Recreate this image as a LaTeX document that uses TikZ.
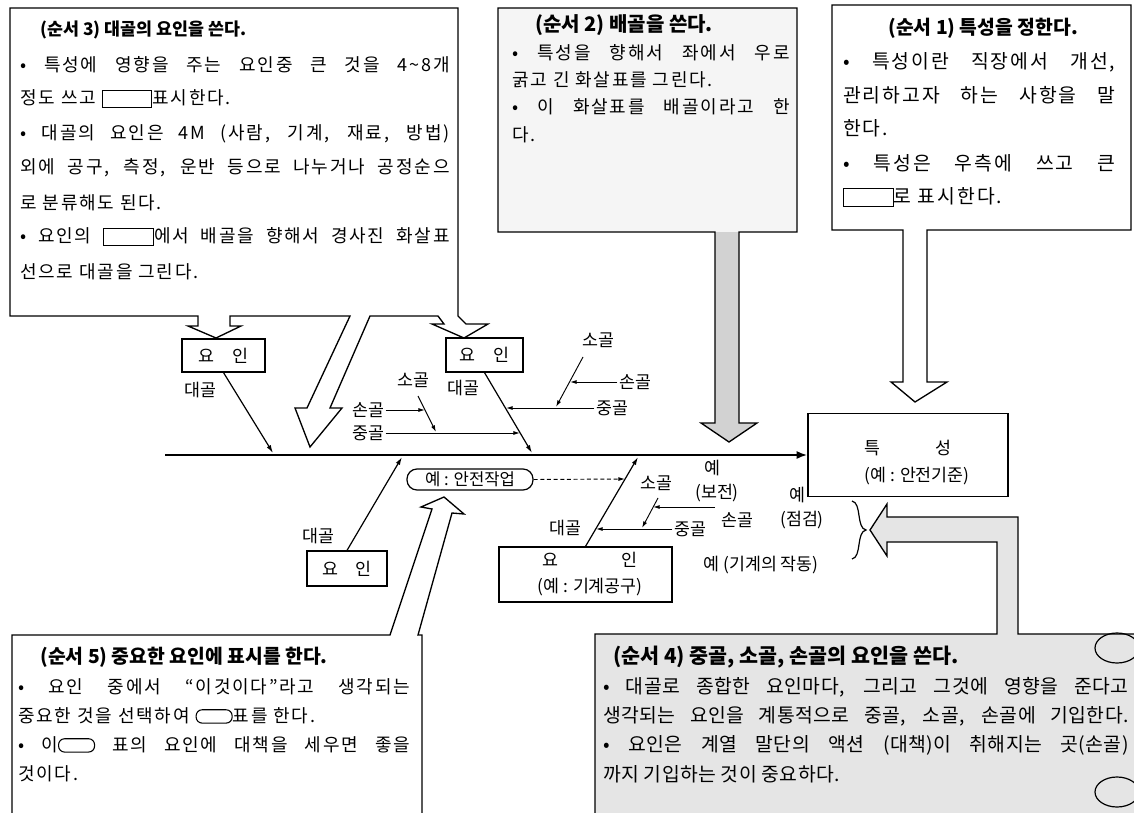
\documentclass[tikz,border=0pt]{standalone}
\usepackage{fontspec}
\usetikzlibrary{arrows.meta,calc}
\newfontfamily\kr[LetterSpace=10]{Noto Sans CJK KR}
\newfontfamily\krt[LetterSpace=2]{Noto Sans CJK KR}
\newfontfamily\krn{Noto Sans CJK KR}
\newcommand\sqb{\raisebox{-0.15em}{\setlength\fboxsep{0pt}\setlength\fboxrule{0.8pt}\framebox[38pt]{\rule{0pt}{12.5pt}}}}
\newcommand\stad{\tikz[baseline=-0.35em]\draw[line width=0.8pt,rounded corners=4.5pt](0pt,-5pt)rectangle(27pt,5pt);}
\newcommand\jline[2]{\makebox[#1][s]{#2}}
\begin{document}
\begin{tikzpicture}[x=0.75pt,y=-0.75pt,
  tl/.style={anchor=west,inner sep=0pt,font=\kr\fontsize{13.5}{16}\selectfont},
  tlb/.style={anchor=west,inner sep=0pt,font=\kr\fontsize{14.5}{17}\selectfont},
  tlf/.style={anchor=west,inner sep=0pt,font=\krt\fontsize{14.5}{17}\selectfont},
  hd/.style={anchor=west,inner sep=0pt,font=\krn\bfseries\fontsize{#1}{16}\selectfont},
  hd/.default=14.5,
  lb/.style={inner sep=1pt,font=\krn\fontsize{13}{15}\selectfont},
  yoin/.style={draw,line width=0.9pt,inner sep=0pt,fill=white,font=\krn\fontsize{13}{15}\selectfont},
  cbox/.style={draw,line width=1pt,line join=miter},
  bonea/.style={line width=0.9pt,-{Latex[length=6pt,width=3.5pt]}},
  subbone/.style={line width=0.7pt,-{Latex[length=5pt,width=3pt]}},
  spineline/.style={line width=2.2pt,-{Latex[length=8pt,width=6pt]}},
]
\useasboundingbox (0,0) rectangle (1134,813);
\clip (0,0) rectangle (1134,813);

% ---------- callout 3 ----------
\draw[cbox,fill=white] (10,8) -- (458,8) -- (458,316) -- (466,324) -- (488,324) -- (464,338)
  -- (432,324) -- (444,324) -- (438,316) -- (370,316) -- (330,408) -- (342,408) -- (310,447)
  -- (295,408) -- (307,408) -- (350,316) -- (230,316) -- (230,326) -- (241,326) -- (216,338)
  -- (188,326) -- (198,326) -- (198,316) -- (10,316) -- cycle;
\node[hd=13] (h3) at (40,30) {(순서 3) 대골의 요인을 쓴다.};
\node[tl] (c3a) at (20,64.5) {\jline{322pt}{•\ 특성에 영향을 주는 요인중 큰 것을 4\string~8개}};
\node[tl] (c3b) at (20,99) {정도 쓰고 \sqb{}표시한다.};
\node[tl] (c3c) at (20,133.5) {\jline{322pt}{•\ 대골의 요인은 4M (사람, 기계, 재료, 방법)}};
\node[tl] (c3d) at (20,168) {\jline{322pt}{외에 공구, 측정, 운반 등으로 나누거나 공정순으}};
\node[tl] (c3e) at (20,202.5) {로 분류해도 된다.};
\node[tl] (c3f) at (20,237) {\jline{322pt}{•\ 요인의 \sqb{}에서 배골을 향해서 경사진 화살표}};
\node[tl] (c3g) at (20,271.5) {선으로 대골을 그린다.};

% ---------- callout 2 ----------
\fill[gray!8] (498,8) -- (797,8) -- (797,232) -- (739,232) -- (739,423) -- (757,423) -- (729,442)
  -- (701,423) -- (715,423) -- (715,232) -- (498,232) -- cycle;
\fill[gray!35] (715,232) -- (715,423) -- (701,423) -- (729,442) -- (757,423) -- (739,423) -- (739,232) -- cycle;
\draw[cbox] (498,8) -- (797,8) -- (797,232) -- (739,232) -- (739,423) -- (757,423) -- (729,442)
  -- (701,423) -- (715,423) -- (715,232) -- (498,232) -- cycle;
\node[hd=15] (h2) at (535,25) {(순서 2) 배골을 쓴다.};
\node[tl] (c2a) at (512,53) {\jline{208pt}{•\ 특성을 향해서 좌에서 우로}};
\node[tl] (c2b) at (512,80) {굵고 긴 화살표를 그린다.};
\node[tl] (c2c) at (512,107) {\jline{208pt}{•\ 이 화살표를 배골이라고 한}};
\node[tl] (c2d) at (512,135) {다.};

% ---------- callout 1 ----------
\draw[cbox,fill=white] (832,5) -- (1131,5) -- (1131,230) -- (927,230) -- (927,382) -- (947,382)
  -- (915,402) -- (891,382) -- (903,382) -- (903,230) -- (832,230) -- cycle;
\node[hd] (h1) at (888,28) {(순서 1) 특성을 정한다.};
\node[tlb] (c1a) at (843,62) {\jline{204pt}{•\ 특성이란 직장에서 개선,}};
\node[tlb] (c1b) at (843,95) {\jline{204pt}{관리하고자 하는 사항을 말}};
\node[tlb] (c1c) at (843,128) {한다.};
\node[tlb] (c1d) at (843,163) {\jline{204pt}{•\ 특성은 우측에 쓰고 큰}};
\node[tlb] (c1e) at (843,197) {\sqb{}로 표시한다.};

% ---------- callout 5 ----------
\draw[cbox,fill=white] (12,816) -- (12,635) -- (390,635) -- (432,509) -- (421,507) -- (444,497)
  -- (464,514) -- (452,513) -- (418,635) -- (422,635) -- (422,816) -- cycle;
\node[hd] (h5) at (40,657) {(순서 5) 중요한 요인에 표시를 한다.};
\node[tl] (c5a) at (18,687) {\jline{294pt}{•\ 요인 중에서 “이것이다”라고 생각되는}};
\node[tl] (c5b) at (18,716) {중요한 것을 선택하여 \stad{}표를 한다.};
\node[tl] (c5c) at (18,745) {\jline{294pt}{•\ 이\stad{} 표의 요인에 대책을 세우면 좋을}};
\node[tl] (c5d) at (18,774) {것이다.};

% ---------- callout 4 ----------
\draw[cbox,fill=gray!20] (595,816) -- (595,634) -- (997,634) -- (997,542) -- (887,542) -- (887,556)
  -- (870,530) -- (887,504) -- (887,517) -- (1018,517) -- (1018,634) -- (1137,634) -- (1137,816) -- cycle;
\node[hd=15.5] (h4) at (613,657) {(순서 4) 중골, 소골, 손골의 요인을 쓴다.};
\node[tlf] (c4a) at (603,687) {\jline{394pt}{•\ 대골로 종합한 요인마다, 그리고 그것에 영향을 준다고}};
\node[tlf] (c4b) at (603,716) {\jline{394pt}{생각되는 요인을 계통적으로 중골, 소골, 손골에 기입한다.}};
\node[tlf] (c4c) at (603,745) {\jline{394pt}{•\ 요인은 계열 말단의 액션 (대책)이 취해지는 곳(손골)}};
\node[tlf] (c4d) at (603,774) {까지 기입하는 것이 중요하다.};
\draw[line width=0.9pt] (1117,648) ellipse [x radius=22, y radius=15];
\draw[line width=0.9pt] (1117,792) ellipse [x radius=22, y radius=15];

% ---------- fishbone ----------
\node[yoin,minimum width=150pt,minimum height=62.25pt] (T) at (908,455) {};
\node[lb] (T1) at (908,448) {특\hspace{3.2em}성};
\node[lb] (T2) at (917,476) {(예 : 안전기준)};
\coordinate (sS) at (165,455);
\draw[spineline] (sS) -- (T.west);

\node[yoin,minimum width=62.25pt,minimum height=24.75pt] (yA) at (223.5,355.5) {요\hspace{1em}인};
\node[yoin,minimum width=57.75pt,minimum height=25.5pt] (yB) at (484.5,355) {요\hspace{1em}인};
\node[yoin,minimum width=60pt,minimum height=26.25pt] (yC) at (347,568.5) {요\hspace{1em}인};
\node[yoin,minimum width=129.75pt,minimum height=41.25pt] (yD) at (585.5,574.5) {};
\node[lb] (yD1) at (590,560) {요\hspace{3.6em}인};
\node[lb] (yD2) at (590,587) {(예 : 기계공구)};

\coordinate (sA) at (273,453);
\coordinate (sB) at (532,453);
\coordinate (sC) at (402,457);
\coordinate (sD) at (638,457);
\draw[bonea] (yA.south) -- (sA);
\draw[bonea] (yB.south) -- (sB);
\draw[bonea] (yC.north) -- (sC);
\draw[bonea] (yD.north) -- (sD);

\node[lb] (dA) at (200,390) {대골};
\node[lb] (dB) at (463,388) {대골};
\node[lb] (dC) at (318,536) {대골};
\node[lb] (dD) at (565,528) {대골};

% left sub-bones (towards B)
\node[lb] (m1) at (368,433) {중골};
\node[lb] (n1) at (368,410) {손골};
\node[lb] (o1) at (413,380) {소골};
\coordinate (j1) at (520,433);
\coordinate (o1s) at (418,396);
\coordinate (o1e) at (436,432);
\coordinate (j2) at (425,410);
\draw[subbone] (m1.east) -- (j1);
\draw[subbone] (o1s) -- (o1e);
\draw[subbone] (n1.east) -- (j2);

% right sub-bones of B
\node[lb] (o2) at (598,340) {소골};
\node[lb] (n2) at (635,382) {손골};
\node[lb] (m2) at (612,408) {중골};
\coordinate (o2s) at (583,357);
\coordinate (o2e) at (556,407);
\coordinate (j3) at (570,382);
\coordinate (j4) at (506,408);
\draw[subbone] (o2s) -- (o2e);
\draw[subbone] (n2.west) -- (j3);
\draw[subbone] (m2.west) -- (j4);

% important factor
\node[draw,line width=0.9pt,rounded corners=7.5pt,minimum width=94.5pt,minimum height=15.75pt,inner sep=0pt,fill=white,font=\krn\fontsize{12.5}{14}\selectfont] (E) at (470,479.5) {예 : 안전작업};
\coordinate (jE) at (625,479);
\draw[subbone,densely dashed] (E.east) -- (jE);

% sub-bones of D
\node[lb] (o3) at (656,483) {소골};
\node[lb] (n3) at (737,520) {손골};
\node[lb] (m3) at (690,529) {중골};
\coordinate (o3s) at (658,498);
\coordinate (o3e) at (642,528);
\coordinate (n3s) at (715,507);
\coordinate (j5) at (653,507);
\coordinate (j6) at (596,529);
\draw[subbone] (o3s) -- (o3e);
\draw[subbone] (n3s) -- (j5);
\draw[subbone] (m3.west) -- (j6);

% examples
\node[lb] (e1) at (712,468) {예};
\node[lb] (e1b) at (717,493) {(보전)};
\node[lb] (e2) at (797,495) {예};
\node[lb] (e2b) at (802,520) {(점검)};
\node[lb] (e3) at (761,565) {예 (기계의 작동)};
\draw[line width=0.9pt] (852,501) .. controls (862,503) and (856,528) .. (866,530)
  .. controls (856,532) and (862,557) .. (852,559);
\end{tikzpicture}
\end{document}
